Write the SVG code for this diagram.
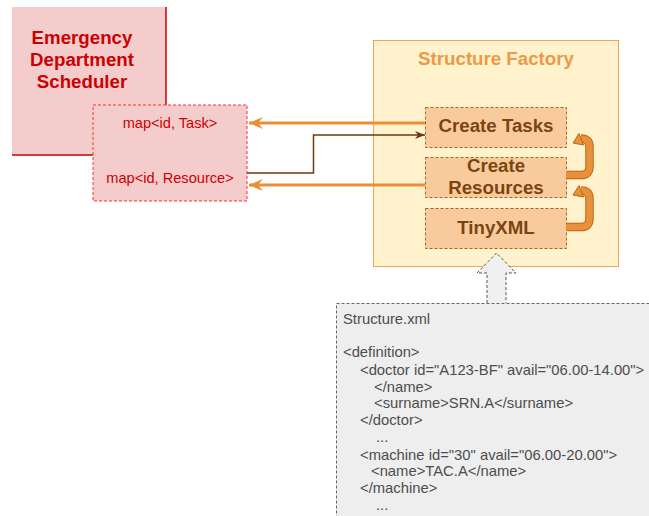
<svg xmlns="http://www.w3.org/2000/svg" width="649" height="516" viewBox="0 0 649 516">
<defs>
<style>
text{font-family:"Liberation Sans",Arial,sans-serif;}
.red{fill:#CC0000;}
.big{font-size:18.7px;font-weight:bold;text-anchor:middle;}
.map{font-size:14.6px;text-anchor:middle;fill:#CC0000;}
.inner{fill:#F9CB9C;stroke:#A8641F;stroke-width:1;stroke-dasharray:3 2;}
.brown{fill:#7A4512;}
.xml{font-size:14.8px;fill:#4D4D4D;}
.oline{stroke:#EA8F35;stroke-width:3;fill:none;}
.cband{fill:none;stroke:#B9651B;stroke-width:8.5;}
.cfill{fill:none;stroke:#E8913A;stroke-width:6.5;}
.chead{fill:#E8913A;stroke:#B9651B;stroke-width:1;stroke-linejoin:round;}
</style>
<marker id="oa" viewBox="0 0 14 12" refX="14" refY="6" markerWidth="14" markerHeight="12" markerUnits="userSpaceOnUse" orient="auto">
<path d="M14,6 L0,0 L5,6 L0,12 Z" fill="#EA8F35"/>
</marker>
<marker id="ba" viewBox="0 0 10 8" refX="10" refY="4" markerWidth="10" markerHeight="8" markerUnits="userSpaceOnUse" orient="auto">
<path d="M0,0 L10,4 L0,8 L3,4 Z" fill="#6B3B0F"/>
</marker>
</defs>
<rect width="649" height="516" fill="#FFFFFF"/>

<g id="scheduler">
<rect x="12" y="7" width="154" height="148" fill="#F4CCCC"/>
<path d="M166,7 V155 H12" fill="none" stroke="#CC0000" stroke-width="1.5"/>
<text class="big red" x="82" y="44">Emergency</text>
<text class="big red" x="82" y="66">Department</text>
<text class="big red" x="82" y="88">Scheduler</text>
</g>

<g id="maps">
<rect x="93" y="105" width="154" height="96" fill="#F4CCCC" stroke="#FF3333" stroke-width="1" stroke-dasharray="3 2"/>
<text class="map" x="170" y="128">map&lt;id, Task&gt;</text>
<text class="map" x="170" y="183">map&lt;id, Resource&gt;</text>
</g>

<g id="factory">
<rect x="373.5" y="40.5" width="245" height="226" fill="#FFF2CC" stroke="#F2A55A" stroke-width="1"/>
<text class="big" x="496" y="65" fill="#EA9A48">Structure Factory</text>
</g>

<g id="create-tasks">
<rect class="inner" x="425.5" y="107.5" width="141" height="40"/>
<text class="big brown" x="496" y="132">Create Tasks</text>
</g>

<g id="create-resources">
<rect class="inner" x="425.5" y="157.5" width="141" height="40"/>
<text class="big brown" x="496" y="172">Create</text>
<text class="big brown" x="496" y="194">Resources</text>
</g>

<g id="tinyxml">
<rect class="inner" x="425.5" y="208.5" width="141" height="40"/>
<text class="big brown" x="496" y="234">TinyXML</text>
</g>

<g id="xml-file">
<rect x="336.5" y="303.5" width="330" height="230" fill="#EEEEEE" stroke="#666666" stroke-width="1" stroke-dasharray="3 2"/>
<text class="xml" x="343" y="324">Structure.xml</text>
<text class="xml" x="343" y="357.3">&lt;definition&gt;</text>
<text class="xml" x="360" y="374.5">&lt;doctor id="A123-BF" avail="06.00-14.00"&gt;</text>
<text class="xml" x="374" y="391.5">&lt;/name&gt;</text>
<text class="xml" x="374" y="408.3">&lt;surname&gt;SRN.A&lt;/surname&gt;</text>
<text class="xml" x="360" y="425.3">&lt;/doctor&gt;</text>
<text class="xml" x="376" y="442.3">...</text>
<text class="xml" x="360" y="459.5">&lt;machine id="30" avail="06.00-20.00"&gt;</text>
<text class="xml" x="371" y="476.3">&lt;name&gt;TAC.A&lt;/name&gt;</text>
<text class="xml" x="360" y="493.3">&lt;/machine&gt;</text>
<text class="xml" x="376" y="510.3">...</text>
</g>

<g id="connectors">
<path class="oline" d="M425,123 H249" marker-end="url(#oa)"/>
<path class="oline" d="M425,185 H249" marker-end="url(#oa)"/>
<path d="M247,173 H313.5 V135 H425" fill="none" stroke="#6B3B0F" stroke-width="1.5" marker-end="url(#ba)"/>
<path class="cband" d="M567,175 H581 Q589.5,175 589.5,166.5 V147 Q589.5,138.5 581,138.5"/>
<path class="cfill" d="M566,175 H581 Q589.5,175 589.5,166.5 V147 Q589.5,138.5 581,138.5"/>
<path class="chead" d="M573,143 L579,133.5 L583.5,145 Z"/>
<path class="cband" d="M567,227 H581 Q589.5,227 589.5,218.5 V199 Q589.5,190.5 581,190.5"/>
<path class="cfill" d="M566,227 H581 Q589.5,227 589.5,218.5 V199 Q589.5,190.5 581,190.5"/>
<path class="chead" d="M573,195 L579,185.5 L583.5,197 Z"/>
<path d="M487,303 V273 H477 L496.5,253 L516,273 H506 V303" fill="#F0F0F0" stroke="#555555" stroke-width="1" stroke-dasharray="3 2"/>
</g>
</svg>
